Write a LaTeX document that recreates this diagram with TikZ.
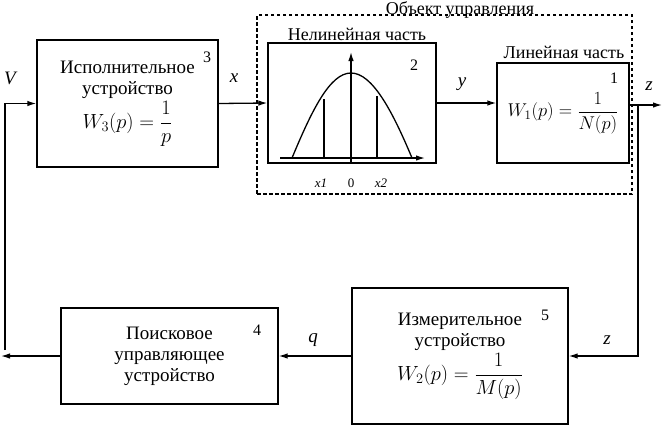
\RequirePackage{fix-cm}
\documentclass[tikz,border=0pt]{standalone}
\usepackage{fontspec}
\setmainfont{Liberation Serif}
\usetikzlibrary{arrows.meta}
\begin{document}
\begin{tikzpicture}[x=1pt,y=-1pt,
  blk/.style={draw, line width=1.3pt, inner sep=0pt, align=center, font=\fontsize{19}{21}\selectfont},
  con/.style={line width=1.3pt},
  arr/.style={con, -{Latex[length=9pt,width=5.5pt]}},
  lbl/.style={font=\fontsize{19}{21}\selectfont\itshape},
  num/.style={font=\fontsize{16}{18}\selectfont},
  ttl/.style={font=\fontsize{18}{20}\selectfont},
  tick/.style={font=\fontsize{13}{15}\selectfont}]
\useasboundingbox (0,0) rectangle (663,429);
% dashed object box
\node[draw, dash pattern=on 3.5pt off 2.5pt, line width=1.1pt, minimum width=375pt, minimum height=179pt, inner sep=0pt] (obj) at (444.5,104.5) {};
\node[ttl, inner ysep=1pt] (objt) at (460,10) {Объект управления};
% blocks
\node[blk, minimum width=181pt, minimum height=127pt] (b3) at (127.5,103.5)
  {Исполнительное\\устройство\\[2pt]{\fontsize{20.5}{22}\selectfont$\displaystyle W_3(p)=\frac{1}{p}$}};
\node[blk, minimum width=168pt, minimum height=120pt] (b2) at (352,103) {};
\node[blk, minimum width=132pt, minimum height=100pt] (b1) at (563,113)
  {\fontsize{18.5}{20}\selectfont$\displaystyle W_1(p)=\frac{1}{N(p)}$};
\node[blk, minimum width=217pt, minimum height=96pt] (b4) at (169.5,356)
  {Поисковое\\управляющее\\устройство};
\node[blk, minimum width=216pt, minimum height=136pt] (b5) at (460,356)
  {Измерительное\\устройство\\[2pt]{\fontsize{20.5}{22}\selectfont$\displaystyle W_2(p)=\frac{1}{M(p)}$}};
% titles and numbers
\node[ttl] (t2) at (357,34) {Нелинейная часть};
\node[ttl] (t1) at (564,52) {Линейная часть};
\node[num] (n3) at (207,57) {3};
\node[num] (n2) at (414,65) {2};
\node[num] (n1) at (614,78) {1};
\node[num] (n4) at (257,330) {4};
\node[num] (n5) at (545,315) {5};
% graph inside block 2
\draw[con, -{Latex[length=9pt,width=5.5pt]}] (351,163) -- (351,52);
\draw[con, -{Latex[length=9pt,width=5.5pt]}] (280,158) -- (425,158);
\draw[con] (292,158) .. controls (312,110) and (330,73) .. (351,73)
  .. controls (372,73) and (392,110) .. (412,158);
\draw[con] (324,99) -- (324,158);
\draw[con] (377,96) -- (377,158);
\node[tick, font=\fontsize{13}{15}\selectfont\itshape] (tx1) at (321,183) {x1};
\node[tick] (t0) at (351,183) {0};
\node[tick, font=\fontsize{13}{15}\selectfont\itshape] (tx2) at (381,183) {x2};
% coordinates
\coordinate (zo) at (662,105);
\coordinate (br) at (638,105);
\coordinate (vl) at (1,356);
\coordinate (vb) at (5,350);
% connectors
\draw[arr] (b3.east) -- (b2.west);
\draw[arr] (b2.east) -- (b2.east -| b1.west);
\draw[arr] (zo -| b1.east) -- (zo);
\draw[arr] (br) |- (b5.east);
\draw[arr] (b5.west) -- (b4.east);
\draw[arr] (b4.west) -- (vl);
\draw[arr] (vb) |- (b3.west);
% signal labels
\node[lbl] (lV) at (10,78) {V};
\node[lbl] (lx) at (234,78) {x};
\node[lbl] (ly) at (462,84) {y};
\node[lbl] (lz) at (649,86) {z};
\node[lbl] (lz2) at (607,340) {z};
\node[lbl] (lq) at (313,340) {q};
\end{tikzpicture}
\end{document}
